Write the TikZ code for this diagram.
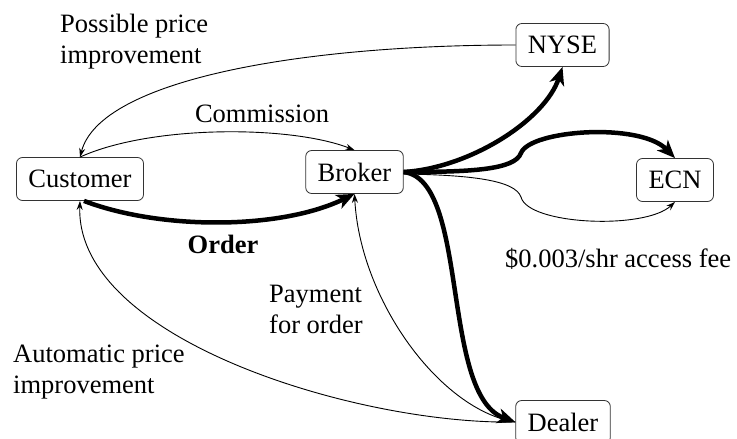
\documentclass[tikz,border=0pt]{standalone}
\usepackage{fontspec}
\setmainfont{Liberation Serif}
\usetikzlibrary{arrows.meta}
\tikzset{
  party/.style={draw=black!80, line width=0.8pt, rounded corners=6pt,
    inner xsep=12pt, minimum height=43pt},
  thin/.style={line width=0.9pt, -{Stealth[length=9pt,width=6pt]}},
  heavy/.style={line width=4.5pt, -{Stealth[length=18pt,width=15pt,inset=5pt]}},
  lbl/.style={anchor=base west, align=left, inner sep=0pt}
}
\begin{document}
\begin{tikzpicture}[x=1pt,y=-1pt,font=\fontsize{26.5}{31}\selectfont]
   \useasboundingbox (0,0) rectangle (737,439);

   \node[party] (cust) at (80,179) {Customer};
   \node[party] (broker) at (354.5,172) {Broker};
   \node[party] (nyse) at (562.5,45) {NYSE};
   \node[party] (ecn) at (675,180) {ECN};
   \node[party] (dealer) at (563,422) {Dealer};

   \draw[thin] (nyse.west) .. controls (300,45) and (100,80) .. (cust.north);
   \draw[thin] (cust.north) .. controls (150,125) and (290,125) .. (broker.north);
   \draw[heavy] ([xshift=4pt]cust.south) .. controls (160,230) and (280,230) .. (broker.south);

   \draw[heavy] (broker.east) .. controls (470,168) and (545,120) .. (nyse.south);
   \draw[heavy] (broker.east) .. controls (470,172) and (515,170) .. (521,153)
      .. controls (530,130) and (640,122) .. (ecn.north);
   \draw[thin] ([yshift=-2pt]broker.east) .. controls (470,175) and (515,180) .. (521,197)
      .. controls (528,225) and (645,230) .. (ecn.south);
   \draw[heavy] (broker.east) .. controls (470,180) and (440,395) .. (dealer.west);

   \draw[thin] (dealer.west) .. controls (440,410) and (360,300) .. (broker.south);
   \draw[thin] (dealer.west) .. controls (360,425) and (75,340) .. (cust.south);

   \node[lbl] (possible) at (60,63) {Possible price\\improvement};
   \node[lbl, anchor=base] (commission) at (262,122) {Commission};
   \node[lbl, anchor=base] (order) at (223,253) {\bfseries Order};
   \node[lbl] (payment) at (269,333) {Payment\\for order};
   \node[lbl] (automatic) at (13,393) {Automatic price\\improvement};
   \node[lbl] (fee) at (505,267) {\$0.003/shr access fee};
\end{tikzpicture}
\end{document}
